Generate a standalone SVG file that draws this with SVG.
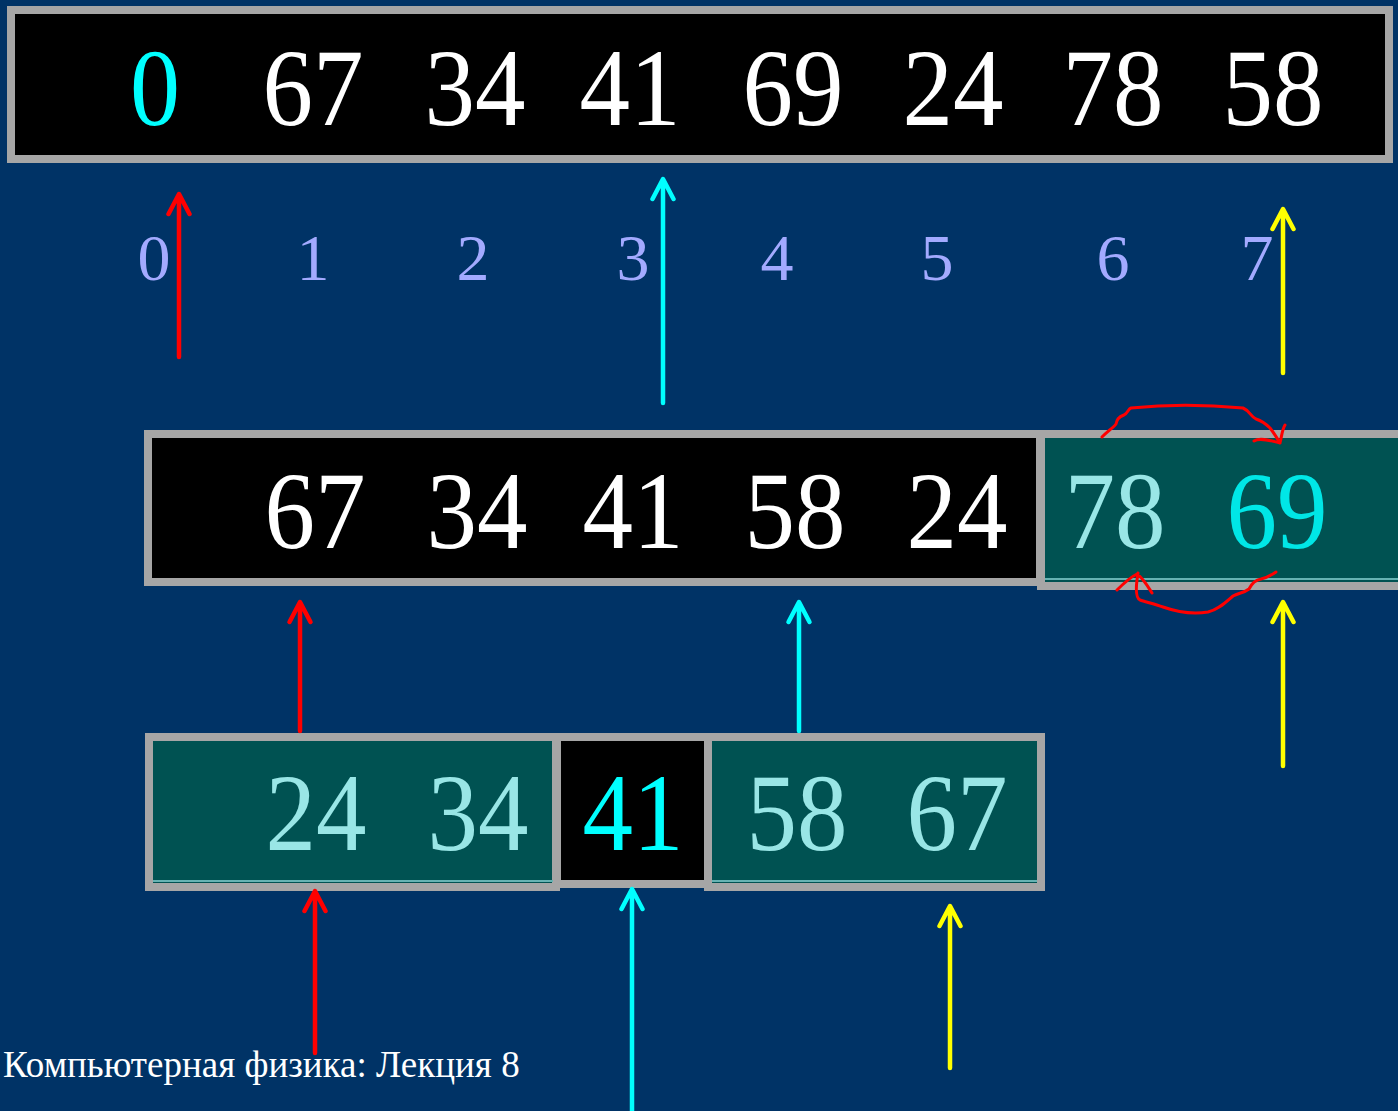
<svg xmlns="http://www.w3.org/2000/svg" width="1398" height="1111" viewBox="0 0 1398 1111">
<defs>
<style>
.num{font-family:"Liberation Serif","Times New Roman",serif;font-size:110px;text-anchor:middle}
.idx{font-family:"Liberation Serif","Times New Roman",serif;font-size:66px;text-anchor:middle;fill:#A3AAFF}
.w{fill:#FFFFFF}
.pale{fill:#99E6E6}
.cy{fill:#00FFFF}
.cy2{fill:#00E6E6}
.blk{fill:#000000;stroke:#A6A6A6;stroke-width:8}
.teal{fill:#005252;stroke:#A6A6A6;stroke-width:8}
.arr{fill:none;stroke-width:4.5;stroke-linecap:round;stroke-linejoin:round}
.r{stroke:#FF0000}
.c{stroke:#00FFFF}
.y{stroke:#FFFF00}
.swap{fill:none;stroke:#FF0000;stroke-width:3;stroke-linecap:round;stroke-linejoin:round}
.foot{font-family:"Liberation Serif","Times New Roman",serif;font-size:37px;fill:#FFFFFF}
</style>
</defs>
<rect x="0" y="0" width="1398" height="1111" fill="#003366"/>

<g id="row-top">
<rect class="blk" x="11" y="10" width="1378" height="149"/>
<text class="num cy" x="155" y="125" textLength="50" lengthAdjust="spacingAndGlyphs">0</text>
<text class="num w" x="313" y="125" textLength="101" lengthAdjust="spacingAndGlyphs">67</text>
<text class="num w" x="475" y="125" textLength="101" lengthAdjust="spacingAndGlyphs">34</text>
<text class="num w" x="630" y="125" textLength="101" lengthAdjust="spacingAndGlyphs">41</text>
<text class="num w" x="793" y="125" textLength="101" lengthAdjust="spacingAndGlyphs">69</text>
<text class="num w" x="953" y="125" textLength="101" lengthAdjust="spacingAndGlyphs">24</text>
<text class="num w" x="1113" y="125" textLength="101" lengthAdjust="spacingAndGlyphs">78</text>
<text class="num w" x="1273" y="125" textLength="101" lengthAdjust="spacingAndGlyphs">58</text>
</g>

<g id="indices">
<text class="idx" x="154" y="280">0</text>
<text class="idx" x="313" y="280">1</text>
<text class="idx" x="473" y="280">2</text>
<text class="idx" x="633" y="280">3</text>
<text class="idx" x="777" y="280">4</text>
<text class="idx" x="937" y="280">5</text>
<text class="idx" x="1113" y="280">6</text>
<text class="idx" x="1257" y="280">7</text>
</g>

<g id="row-middle">
<rect class="teal" x="1041" y="434" width="380" height="152"/>
<line x1="1045" y1="579" x2="1398" y2="579" stroke="#66B3B3" stroke-width="2"/>
<rect class="blk" x="148" y="434" width="892" height="148"/>
<text class="num w" x="315" y="548" textLength="101" lengthAdjust="spacingAndGlyphs">67</text>
<text class="num w" x="477" y="548" textLength="101" lengthAdjust="spacingAndGlyphs">34</text>
<text class="num w" x="633" y="548" textLength="101" lengthAdjust="spacingAndGlyphs">41</text>
<text class="num w" x="795" y="548" textLength="101" lengthAdjust="spacingAndGlyphs">58</text>
<text class="num w" x="957" y="548" textLength="101" lengthAdjust="spacingAndGlyphs">24</text>
<text class="num pale" x="1115" y="548" textLength="101" lengthAdjust="spacingAndGlyphs">78</text>
<text class="num cy2" x="1277" y="548" textLength="101" lengthAdjust="spacingAndGlyphs">69</text>
</g>

<g id="row-bottom">
<rect class="teal" x="149" y="737" width="407" height="150"/>
<line x1="153" y1="881" x2="553" y2="881" stroke="#66B3B3" stroke-width="2"/>
<rect class="teal" x="708" y="737" width="333" height="150"/>
<line x1="712" y1="881" x2="1037" y2="881" stroke="#66B3B3" stroke-width="2"/>
<rect class="blk" x="557" y="737" width="151" height="147"/>
<text class="num pale" x="316" y="850" textLength="101" lengthAdjust="spacingAndGlyphs">24</text>
<text class="num pale" x="478" y="850" textLength="101" lengthAdjust="spacingAndGlyphs">34</text>
<text class="num cy" x="633" y="850" textLength="101" lengthAdjust="spacingAndGlyphs">41</text>
<text class="num pale" x="797" y="850" textLength="101" lengthAdjust="spacingAndGlyphs">58</text>
<text class="num pale" x="957" y="850" textLength="101" lengthAdjust="spacingAndGlyphs">67</text>
</g>

<g id="connectors">
<path class="arr r" d="M179 357V195M168.5 214L179 194L189.5 214"/>
<path class="arr c" d="M663 403V180M652.5 199L663 179L673.5 199"/>
<path class="arr y" d="M1283 373V210M1272.5 229L1283 209L1293.5 229"/>
<path class="arr r" d="M300 731V603M289.5 622L300 602L310.5 622"/>
<path class="arr c" d="M799 731V603M788.5 622L799 602L809.5 622"/>
<path class="arr y" d="M1283 766V603M1272.5 622L1283 602L1293.5 622"/>
<path class="arr r" d="M315 1053V892M304.5 911L315 891L325.5 911"/>
<path class="arr c" d="M632 1111V890M621.5 909L632 889L642.5 909"/>
<path class="arr y" d="M950 1068V907M939.5 926L950 906L960.5 926"/>
<path class="swap" d="M1102 437C1108 431 1114 427 1116 424C1117 420 1118 417 1124 415C1128 413 1128 409 1131 408C1160 405 1200 404 1243 408C1250 411 1250 416 1256 419C1262 421 1266 424 1270 428C1274 433 1277 438 1280 443M1254 441C1260 437 1272 441 1280 443C1282 435 1282 430 1285 425"/>
<path class="swap" d="M1276 572C1270 576 1266 578 1261 579C1255 580 1252 583 1249 589C1244 593 1238 593 1233 596C1226 602 1218 610 1208 612C1195 614 1180 613 1163 607C1155 604 1146 602 1140 600C1136 598 1136 588 1137 580L1138 573M1117 590C1123 584 1129 578 1137 574C1143 578 1147 585 1152 593"/>
</g>

<text class="foot" x="3" y="1077">Компьютерная физика: Лекция 8</text>
</svg>
